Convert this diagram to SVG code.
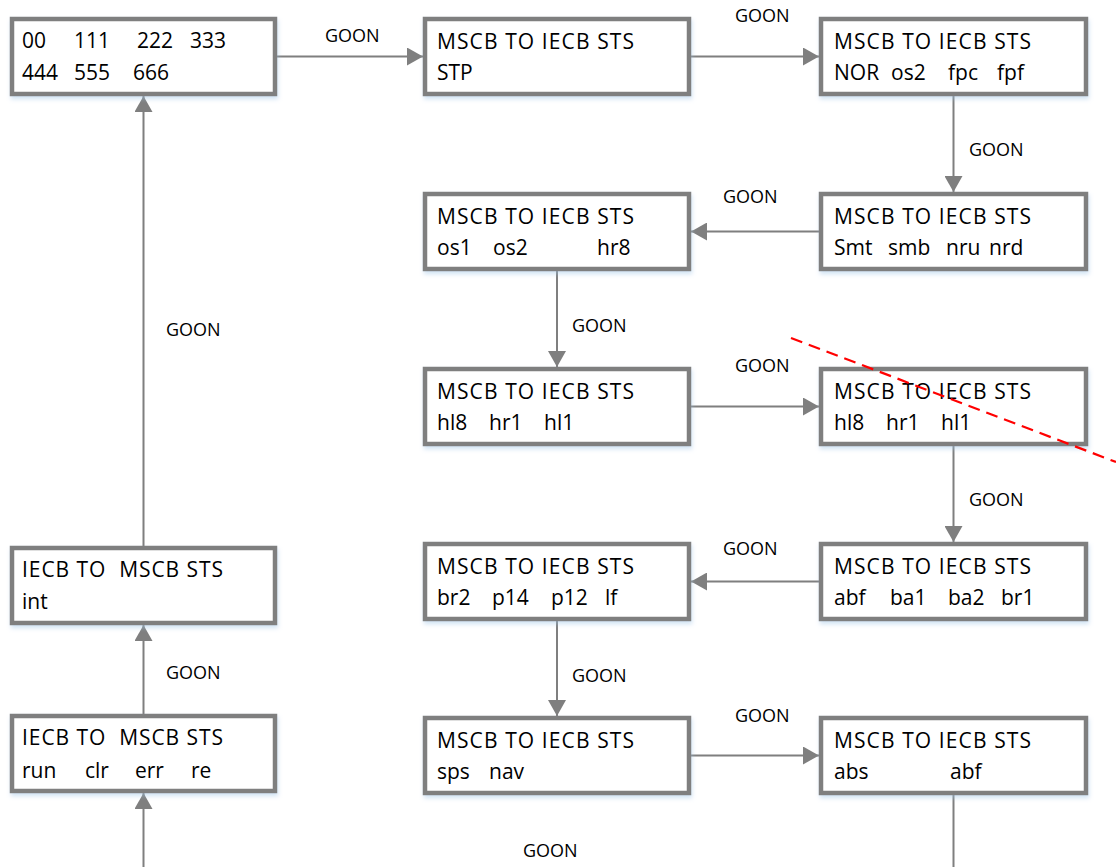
<svg xmlns="http://www.w3.org/2000/svg" width="1116" height="867" viewBox="0 0 1116 867">
  <style>
    .box { fill: #ffffff; stroke: #7f7f7f; stroke-width: 4.5; filter: url(#glow); }
    .t { font-family: "Open Sans", "Liberation Sans", sans-serif; font-size: 21px; fill: #000000; }
    .lbl { font-family: "Open Sans", "Liberation Sans", sans-serif; font-size: 18px; fill: #000000; }
    .con { fill: none; stroke: #7f7f7f; stroke-width: 2; }
    .arr { marker-end: url(#ah); }
    .cut { fill: none; stroke: #ff0000; stroke-width: 2.2; stroke-dasharray: 12 7; }
  </style>
  <defs>
    <marker id="ah" markerUnits="userSpaceOnUse" markerWidth="16" markerHeight="18" refX="16" refY="9" orient="auto">
      <path d="M0,0 L16,9 L0,18 z" fill="#7f7f7f"/>
    </marker>
    <filter id="glow" x="-10%" y="-20%" width="120%" height="150%">
      <feDropShadow dx="1" dy="3" stdDeviation="2" flood-color="#9dc3e6" flood-opacity="0.45"/>
    </filter>
  </defs>
  <rect width="1116" height="867" fill="#ffffff"/>

  <g id="connectors">
    <path class="con arr" d="M277,56.5 H423"/>
    <path class="con arr" d="M691,56.5 H819"/>
    <path class="con arr" d="M953.5,96 V192"/>
    <path class="con arr" d="M819,231.5 H691"/>
    <path class="con arr" d="M557,271 V367"/>
    <path class="con arr" d="M691,406.5 H819"/>
    <path class="con arr" d="M953.5,446 V542"/>
    <path class="con arr" d="M819,581.5 H691"/>
    <path class="con arr" d="M557,621 V716"/>
    <path class="con arr" d="M691,755.5 H819"/>
    <path class="con" d="M953.5,795 V867"/>
    <path class="con arr" d="M143.5,867 V793"/>
    <path class="con arr" d="M143.5,714 V625"/>
    <path class="con arr" d="M143.5,546 V96"/>
    <text class="lbl" x="325" y="42">GOON</text>
    <text class="lbl" x="735" y="22">GOON</text>
    <text class="lbl" x="969" y="156">GOON</text>
    <text class="lbl" x="723" y="203">GOON</text>
    <text class="lbl" x="572" y="332">GOON</text>
    <text class="lbl" x="735" y="372">GOON</text>
    <text class="lbl" x="969" y="506">GOON</text>
    <text class="lbl" x="723" y="555">GOON</text>
    <text class="lbl" x="572" y="682">GOON</text>
    <text class="lbl" x="735" y="722">GOON</text>
    <text class="lbl" x="523" y="857">GOON</text>
    <text class="lbl" x="166" y="336">GOON</text>
    <text class="lbl" x="166" y="679">GOON</text>
  </g>

  <g id="n1">
    <rect class="box" x="12" y="19" width="263" height="75"/>
    <text class="t" y="48"><tspan x="22">00</tspan><tspan x="74">111</tspan><tspan x="137">222</tspan><tspan x="190">333</tspan></text>
    <text class="t" y="80"><tspan x="22">444</tspan><tspan x="74">555</tspan><tspan x="133">666</tspan></text>
  </g>

  <g id="n2">
    <rect class="box" x="425" y="19" width="264" height="75"/>
    <text class="t" x="437" y="49" textLength="197" lengthAdjust="spacing">MSCB TO IECB STS</text>
    <text class="t" x="437" y="80">STP</text>
  </g>

  <g id="n3">
    <rect class="box" x="821" y="19" width="265" height="75"/>
    <text class="t" x="834" y="49" textLength="197" lengthAdjust="spacing">MSCB TO IECB STS</text>
    <text class="t" y="80"><tspan x="834">NOR</tspan><tspan x="891">os2</tspan><tspan x="948">fpc</tspan><tspan x="997">fpf</tspan></text>
  </g>

  <g id="n4">
    <rect class="box" x="821" y="194" width="265" height="75"/>
    <text class="t" x="834" y="224" textLength="197" lengthAdjust="spacing">MSCB TO IECB STS</text>
    <text class="t" y="255"><tspan x="834">Smt</tspan><tspan x="888">smb</tspan><tspan x="946">nru</tspan><tspan x="989">nrd</tspan></text>
  </g>

  <g id="n5">
    <rect class="box" x="425" y="194" width="264" height="75"/>
    <text class="t" x="437" y="224" textLength="197" lengthAdjust="spacing">MSCB TO IECB STS</text>
    <text class="t" y="255"><tspan x="437">os1</tspan><tspan x="493">os2</tspan><tspan x="597">hr8</tspan></text>
  </g>

  <g id="n6">
    <rect class="box" x="425" y="369" width="264" height="75"/>
    <text class="t" x="437" y="399" textLength="197" lengthAdjust="spacing">MSCB TO IECB STS</text>
    <text class="t" y="430"><tspan x="437">hl8</tspan><tspan x="489">hr1</tspan><tspan x="544">hl1</tspan></text>
  </g>

  <g id="n7">
    <rect class="box" x="821" y="369" width="265" height="75"/>
    <text class="t" x="834" y="399" textLength="197" lengthAdjust="spacing">MSCB TO IECB STS</text>
    <text class="t" y="430"><tspan x="834">hl8</tspan><tspan x="886">hr1</tspan><tspan x="941">hl1</tspan></text>
  </g>

  <g id="n8">
    <rect class="box" x="821" y="544" width="265" height="75"/>
    <text class="t" x="834" y="574" textLength="197" lengthAdjust="spacing">MSCB TO IECB STS</text>
    <text class="t" y="605"><tspan x="834">abf</tspan><tspan x="890">ba1</tspan><tspan x="948">ba2</tspan><tspan x="1001">br1</tspan></text>
  </g>

  <g id="n9">
    <rect class="box" x="425" y="544" width="264" height="75"/>
    <text class="t" x="437" y="574" textLength="197" lengthAdjust="spacing">MSCB TO IECB STS</text>
    <text class="t" y="605"><tspan x="437">br2</tspan><tspan x="492">p14</tspan><tspan x="551">p12</tspan><tspan x="605">lf</tspan></text>
  </g>

  <g id="n10">
    <rect class="box" x="425" y="718" width="264" height="75"/>
    <text class="t" x="437" y="748" textLength="197" lengthAdjust="spacing">MSCB TO IECB STS</text>
    <text class="t" y="779"><tspan x="437">sps</tspan><tspan x="489">nav</tspan></text>
  </g>

  <g id="n11">
    <rect class="box" x="821" y="718" width="265" height="75"/>
    <text class="t" x="834" y="748" textLength="197" lengthAdjust="spacing">MSCB TO IECB STS</text>
    <text class="t" y="779"><tspan x="834">abs</tspan><tspan x="950">abf</tspan></text>
  </g>

  <g id="n12">
    <rect class="box" x="12" y="548" width="263" height="75"/>
    <text class="t" x="22" y="577" textLength="201" lengthAdjust="spacing" xml:space="preserve">IECB TO  MSCB STS</text>
    <text class="t" x="22" y="609">int</text>
  </g>

  <g id="n13">
    <rect class="box" x="12" y="716" width="263" height="75"/>
    <text class="t" x="22" y="745" textLength="201" lengthAdjust="spacing" xml:space="preserve">IECB TO  MSCB STS</text>
    <text class="t" y="778"><tspan x="22">run</tspan><tspan x="85">clr</tspan><tspan x="135">err</tspan><tspan x="191">re</tspan></text>
  </g>

  <g id="cutline">
    <path class="cut" d="M791,338 L1116,462"/>
  </g>
</svg>
